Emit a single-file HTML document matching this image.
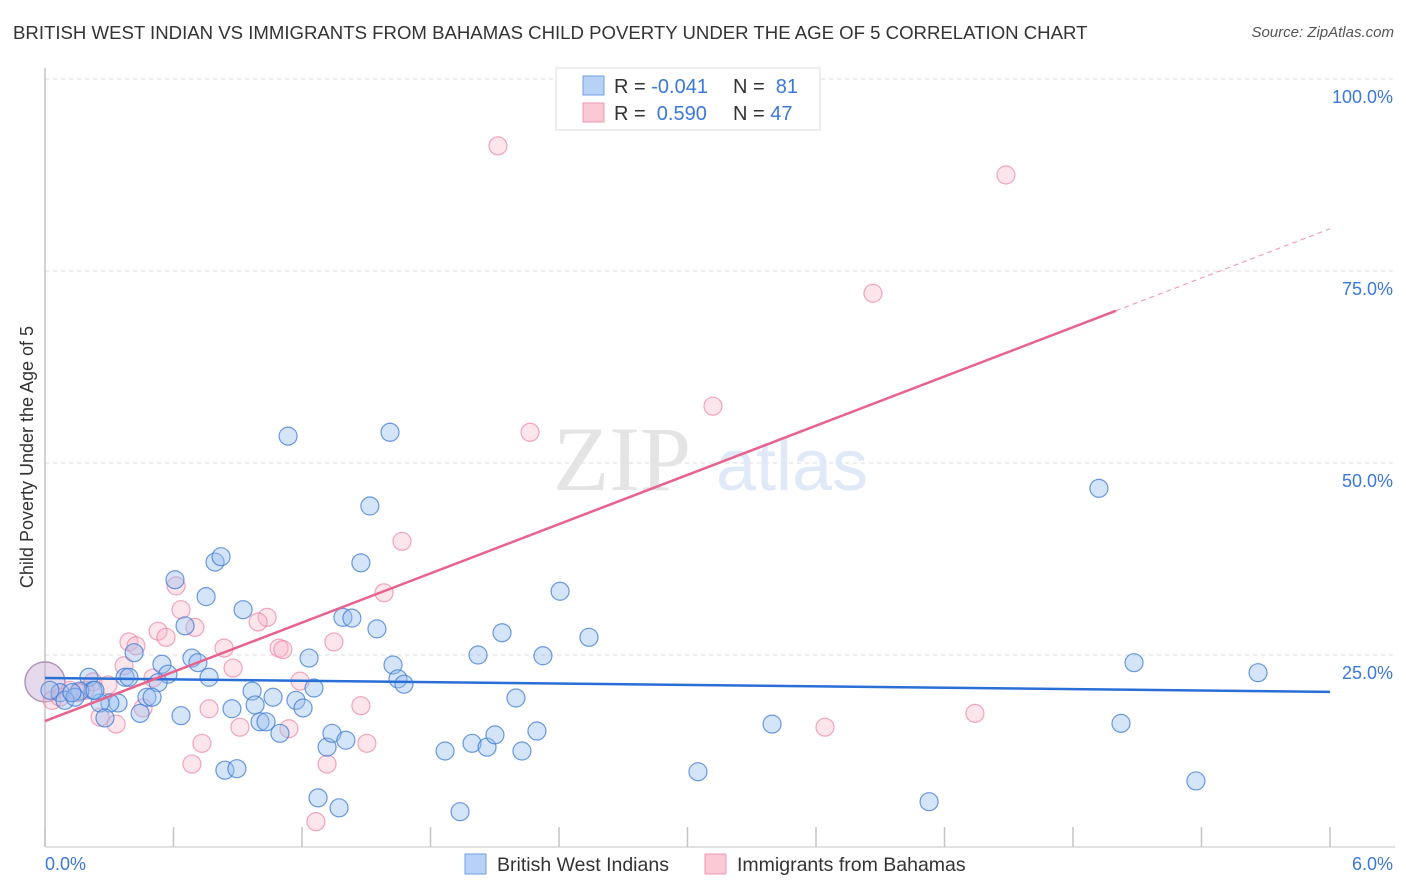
<!DOCTYPE html>
<html><head><meta charset="utf-8">
<style>
body{margin:0;background:#fff;font-family:"Liberation Sans",sans-serif;}
#wrap{position:relative;width:1406px;height:892px;overflow:hidden;}
.title{position:absolute;left:13px;top:22px;font-size:18.6px;color:#333;letter-spacing:0px;}
.src{position:absolute;right:12px;top:24px;font-size:15px;color:#555;font-style:italic;}
</style></head>
<body>
<div id="wrap">
<div class="title">BRITISH WEST INDIAN VS IMMIGRANTS FROM BAHAMAS CHILD POVERTY UNDER THE AGE OF 5 CORRELATION CHART</div>
<div class="src">Source: ZipAtlas.com</div>
<svg id="chart" width="1406" height="892" style="position:absolute;left:0;top:0"></svg>
</div>
<script>
const xTicks=[0,0.6,1.2,1.8,2.4,3.0,3.6,4.2,4.8,5.4,6.0];
const yTicks=[25,50,75,100];
const yTickLabels=["25.0%","50.0%","75.0%","100.0%"];
const blueX=[1.135,1.611,1.517,1.475,0.794,0.822,0.607,0.752,0.925,0.654,1.391,1.433,1.550,2.405,2.134,2.540,2.022,2.325,1.233,0.546,0.686,0.714,0.416,0.374,0.392,0.574,0.528,0.766,1.625,1.648,1.676,1.256,0.967,1.065,1.172,1.205,0.873,0.981,0.476,0.500,0.341,0.303,0.257,0.205,0.224,0.163,0.070,0.093,0.140,0.280,0.444,0.635,1.004,1.032,1.097,1.317,1.340,1.405,1.868,1.994,2.064,2.101,2.227,2.297,2.199,3.395,3.049,0.840,0.896,1.275,1.373,1.938,4.921,5.085,5.664,5.024,4.128,5.374,0.233,0.126,0.023];
const blueY=[53.5,54.0,44.4,37.0,37.1,37.8,34.8,32.6,30.9,28.8,29.9,29.8,28.4,33.3,27.9,27.3,25.0,24.9,24.6,23.8,24.6,24.0,25.3,22.1,22.1,22.5,21.4,22.1,23.7,21.9,21.2,20.7,20.3,19.5,19.1,18.1,18.0,18.5,19.5,19.5,18.75,18.75,18.75,22.1,20.4,20.3,20.1,19.1,19.5,16.8,17.4,17.1,16.3,16.3,14.8,13.0,14.8,13.9,12.5,13.5,13.0,14.6,12.5,15.1,19.4,16.0,9.8,10.0,10.2,6.4,5.1,4.6,46.7,24.0,22.7,16.1,5.9,8.6,20.4,20.1,20.4];
const pinkX=[2.115,4.487,3.866,3.119,2.265,1.667,1.583,0.612,0.635,1.037,0.995,0.528,0.565,0.700,0.392,0.425,0.836,1.093,1.111,1.349,0.369,0.878,0.504,0.224,0.187,1.191,0.294,1.475,0.766,0.458,0.257,0.332,0.910,1.139,0.733,1.503,0.686,1.317,1.265,3.642,4.342,0.033,0.070,0.117,0.154,2.965];
const pinkY=[91.3,87.5,72.1,57.4,54.0,39.8,33.1,34.0,30.9,29.9,29.3,28.1,27.3,28.6,26.7,26.2,25.9,25.9,25.7,26.7,23.6,23.3,22.0,21.5,20.4,21.6,21.1,18.4,18.0,18.1,16.9,16.0,15.6,15.4,13.5,13.5,10.8,10.8,3.3,15.6,17.4,19.1,19.5,20.4,20.1,99.9];
const blueTrend=[22.0,20.2];
const pinkTrend=[16.4,80.5];
const pinkSolidEnd=5.0;

const NS="http://www.w3.org/2000/svg";
const svg=document.getElementById('chart');
const X0=45,X1=1330,Y0=847,Y100=79;
const xs=v=>X0+(v/6)*(X1-X0);
const ys=v=>Y0-(v/100)*(Y0-Y100);
function mk(tag,attrs,parent){const e=document.createElementNS(NS,tag);for(const k in attrs)e.setAttribute(k,attrs[k]);(parent||svg).appendChild(e);return e;}

yTicks.forEach((t,i)=>{
  const g=mk('line',{x1:X0,x2:1395,y1:ys(t),y2:ys(t),stroke:'#dcdcdc','stroke-dasharray':'4,4','stroke-width':1});
  
  
  const l=mk('text',{x:1393,y:ys(t)+24,'text-anchor':'end','font-size':18,fill:'#3b78d8','font-family':'Liberation Sans, sans-serif'});
  l.textContent=yTickLabels[i];
  
  
});
const ax=mk('line',{x1:X0,x2:1395,y1:Y0,y2:Y0,stroke:'#c4c4c4','stroke-width':1});


const ay=mk('line',{x1:X0,x2:X0,y1:68,y2:Y0,stroke:'#c4c4c4','stroke-width':1.5});


xTicks.forEach(t=>{
  const tk=mk('line',{x1:xs(t),x2:xs(t),y1:827,y2:Y0,stroke:'#c4c4c4','stroke-width':1.5});
  
  
});
const xl0=mk('text',{x:45,y:870,'font-size':18,fill:'#3b78d8','font-family':'Liberation Sans, sans-serif'});xl0.textContent='0.0%';


const xl1=mk('text',{x:1393,y:870,'text-anchor':'end','font-size':18,fill:'#3b78d8','font-family':'Liberation Sans, sans-serif'});xl1.textContent='6.0%';


const yt=mk('text',{x:0,y:0,transform:'translate(33,457) rotate(-90)','text-anchor':'middle','font-size':18,fill:'#333','font-family':'Liberation Sans, sans-serif'});yt.textContent='Child Poverty Under the Age of 5';



const wm=mk('text',{x:553,y:490,'font-size':92,fill:'#e4e4e4','font-family':'Liberation Serif, serif'});wm.textContent='ZIP';


const wm2=mk('text',{x:716,y:490,'font-size':72,fill:'#dfe9f7','font-family':'Liberation Sans, sans-serif'});wm2.textContent='atlas';



const bb=mk('circle',{cx:xs(0),cy:ys(21.5),r:20,fill:'rgba(200,170,210,0.45)',stroke:'rgba(150,110,160,0.7)','stroke-width':1.5});



pinkX.forEach((x,i)=>{
  const c=mk('circle',{cx:xs(x),cy:ys(pinkY[i]),r:9,fill:'rgba(248,180,200,0.35)',stroke:'rgba(236,130,160,0.7)','stroke-width':1.2});
  
  
});
blueX.forEach((x,i)=>{
  const c=mk('circle',{cx:xs(x),cy:ys(blueY[i]),r:9,fill:'rgba(150,190,240,0.4)',stroke:'rgba(60,120,215,0.75)','stroke-width':1.2});
  
  
});
const bt=mk('line',{x1:xs(0),y1:ys(blueTrend[0]),x2:xs(6),y2:ys(blueTrend[1]),stroke:'#2a6fd6','stroke-width':2.5});


const pyAt=x=>pinkTrend[0]+(pinkTrend[1]-pinkTrend[0])*x/6;
const pt=mk('line',{x1:xs(0),y1:ys(pyAt(0)),x2:xs(pinkSolidEnd),y2:ys(pyAt(pinkSolidEnd)),stroke:'#e8628e','stroke-width':2.5});


const pd=mk('line',{x1:xs(pinkSolidEnd),y1:ys(pyAt(pinkSolidEnd)),x2:xs(6),y2:ys(pyAt(6)),stroke:'#efa0b8','stroke-width':1.2,'stroke-dasharray':'5,4'});



const lg=mk('g',{});


mk('rect',{x:556,y:68,width:264,height:62,fill:'#fff',stroke:'#ddd','stroke-width':1},lg);
mk('rect',{x:583,y:76,width:21,height:19,fill:'#b8d2f6',stroke:'#6f9fe0'},lg);
mk('rect',{x:583,y:103,width:21,height:19,fill:'#fbc8d6',stroke:'#ec98b0'},lg);
const rows=[['-0.041','81',93],['0.590','47',120]];
rows.forEach(r=>{
  const t=mk('text',{x:614,y:r[2],'font-size':20,fill:'#333','font-family':'Liberation Sans, sans-serif'},lg);
  t.innerHTML='R = <tspan fill="#3b78d8">'+(r[0][0]=='-'?'':'&#160;')+r[0]+'</tspan>';
  const n=mk('text',{x:733,y:r[2],'font-size':20,fill:'#333','font-family':'Liberation Sans, sans-serif'},lg);
  n.innerHTML='N = <tspan fill="#3b78d8">'+(r[1]=='81'?'&#160;':'')+r[1]+'</tspan>';
});
const bl=mk('g',{});


mk('rect',{x:465,y:854,width:21,height:20,fill:'#b8d2f6',stroke:'#6f9fe0'},bl);
const b1=mk('text',{x:497,y:871,'font-size':19.5,fill:'#333','font-family':'Liberation Sans, sans-serif'},bl);b1.textContent='British West Indians';
mk('rect',{x:705,y:854,width:21,height:20,fill:'#fbc8d6',stroke:'#ec98b0'},bl);
const b2=mk('text',{x:737,y:871,'font-size':19.5,fill:'#333','font-family':'Liberation Sans, sans-serif'},bl);b2.textContent='Immigrants from Bahamas';
</script>
</body></html>
